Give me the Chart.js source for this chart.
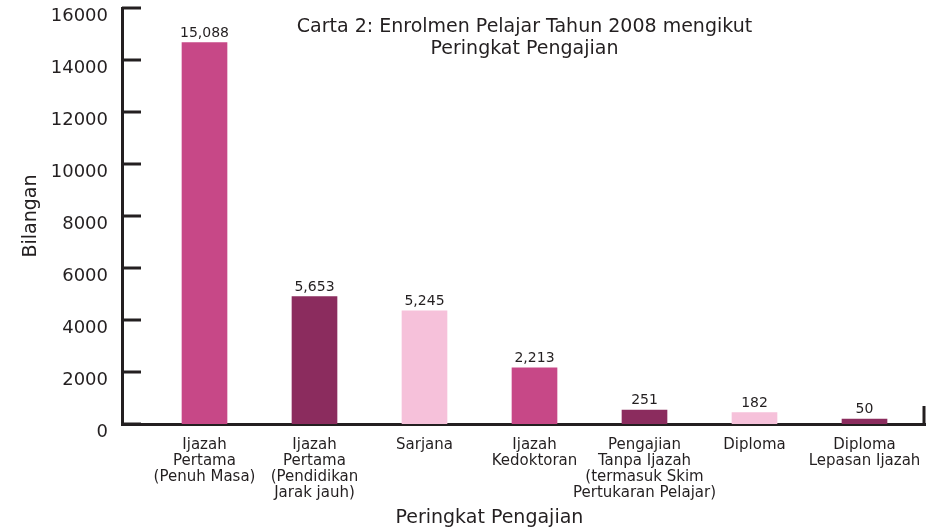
<!DOCTYPE html>
<html>
<head>
<meta charset="utf-8">
<script src="https://cdn.jsdelivr.net/npm/chart.js@4"></script>
<style>
    body { margin: 0; background: #ffffff; }
    #wrap { width: 939px; height: 529px; position: relative; }
</style>
</head>
<body>
<div id="wrap"><canvas id="enrolChart"></canvas></div>
<script>
// Chart data (bar heights as drawn, value labels as printed)
const categories = [
    ["Ijazah", "Pertama", "(Penuh Masa)"],
    ["Ijazah", "Pertama", "(Pendidikan", "Jarak jauh)"],
    ["Sarjana"],
    ["Ijazah", "Kedoktoran"],
    ["Pengajian", "Tanpa Ijazah", "(termasuk Skim", "Pertukaran Pelajar)"],
    ["Diploma"],
    ["Diploma", "Lepasan Ijazah"]
];
const barValues = [14670, 4900, 4350, 2160, 540, 440, 190];
const valueLabels = ["15,088", "5,653", "5,245", "2,213", "251", "182", "50"];
const titleLines = ["Carta 2: Enrolmen Pelajar Tahun 2008 mengikut", "Peringkat Pengajian"];

document.addEventListener("DOMContentLoaded", function () {
    const ink = "#231f20";
    const font = "'DejaVu Sans', sans-serif";
    const pink = "#c74887", plum = "#8b2c5e", light = "#f6c1da";
    const barColors = [pink, plum, light, pink, plum, light, plum];

    // draws title, axis title, inner tick marks and value labels
    const overlay = {
        id: "overlay",
        afterDraw(chart) {
            const { ctx, chartArea } = chart;
            const x = chart.scales.x, y = chart.scales.y;
            ctx.save();

            ctx.strokeStyle = ink;
            ctx.lineWidth = 3;
            y.ticks.forEach(t => {
                const py = Math.round(y.getPixelForValue(t.value));
                ctx.beginPath();
                ctx.moveTo(chartArea.left, py);
                ctx.lineTo(chartArea.left + 19, py);
                ctx.stroke();
            });
            ctx.beginPath();
            ctx.moveTo(chartArea.right - 1, chartArea.bottom);
            ctx.lineTo(chartArea.right - 1, chartArea.bottom - 18);
            ctx.stroke();

            ctx.fillStyle = ink;
            ctx.textAlign = "center";
            ctx.textBaseline = "alphabetic";
            ctx.font = "14px " + font;
            chart.getDatasetMeta(0).data.forEach((bar, i) => {
                ctx.fillText(valueLabels[i], bar.x, bar.y - 6);
            });

            ctx.textBaseline = "middle";
            ctx.font = "19px " + font;
            const cx = (chartArea.left + chartArea.right) / 2 + 1;
            ctx.fillText(titleLines[0], cx, 27);
            ctx.fillText(titleLines[1], cx, 49);

            ctx.fillText("Peringkat Pengajian", x.getPixelForValue(2.59), 518);
            ctx.restore();
        }
    };

    new Chart(document.getElementById("enrolChart"), {
        type: "bar",
        data: {
            datasets: [{
                data: barValues.map((v, i) => ({ x: i, y: v })),
                backgroundColor: barColors,
                borderWidth: 0,
                barThickness: 45
            }]
        },
        options: {
            responsive: true,
            maintainAspectRatio: false,
            animation: false,
            layout: { padding: { top: 8, right: 14, left: 0, bottom: 0 } },
            plugins: {
                legend: { display: false },
                tooltip: { enabled: false }
            },
            scales: {
                x: {
                    type: "linear",
                    min: -0.75,
                    max: 6.55,
                    offset: false,
                    afterBuildTicks: s => { s.ticks = categories.map((c, i) => ({ value: i })); },
                    afterFit: s => { s.height = 105; },
                    ticks: {
                        callback: v => categories[v],
                        autoSkip: false,
                        maxRotation: 0,
                        padding: 13,
                        color: ink,
                        font: { family: font, size: 15, lineHeight: 16 / 15 }
                    },
                    grid: { display: false, drawTicks: false },
                    border: { display: true, color: ink, width: 3 }
                },
                y: {
                    min: 0,
                    max: 16000,
                    afterFit: s => {
                        s.width = 122;
                        s.paddingTop = 0;
                        s.paddingBottom = 0;
                    },
                    ticks: {
                        stepSize: 2000,
                        padding: 14,
                        labelOffset: 8,
                        color: ink,
                        font: { family: font, size: 18 },
                        callback: v => String(v)
                    },
                    grid: { display: false, drawTicks: false },
                    border: { display: true, color: ink, width: 3 },
                    title: {
                        display: true,
                        text: "Bilangan",
                        color: ink,
                        font: { family: font, size: 19 },
                        padding: { top: 20, bottom: 0 }
                    }
                }
            }
        },
        plugins: [overlay]
    });
});
</script>
</body>
</html>
